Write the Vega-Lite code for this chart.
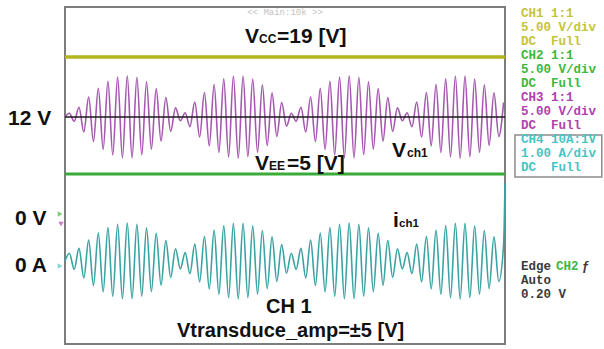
{
 "$schema": "https://vega.github.io/schema/vega-lite/v6.json",
 "width": 440, "height": 337,
 "autosize": {"type": "none"},
 "padding": {"left": 65, "top": 7, "right": 99, "bottom": 5},
 "background": "white",
 "config": {"view": {"stroke": "#7d7d7d", "strokeWidth": 2}},
 "datasets": {
  "dc": [{"t": 0, "ch1": 2.813, "ch2": 0.036}, {"t": 10, "ch1": 2.813, "ch2": 0.036}],
  "ref": [{"level": 1.389}],
  "wave": [
   {"t":0,"p":1.389,"c":-2.03},
   {"t":0.099,"p":1.477,"c":-1.844},{"t":0.209,"p":1.287,"c":-2.228},{"t":0.318,"p":1.619,"c":-1.730},{"t":0.428,"p":1.034,"c":-2.430},
   {"t":0.538,"p":1.863,"c":-1.535},{"t":0.647,"p":0.806,"c":-2.612},{"t":0.757,"p":2.073,"c":-1.367},{"t":0.867,"p":0.618,"c":-2.763},
   {"t":0.976,"p":2.234,"c":-1.238},{"t":1.086,"p":0.485,"c":-2.869},{"t":1.196,"p":2.336,"c":-1.157},{"t":1.305,"p":0.417,"c":-2.924},
   {"t":1.415,"p":2.369,"c":-1.130},{"t":1.524,"p":0.418,"c":-2.923},{"t":1.634,"p":2.332,"c":-1.160},{"t":1.744,"p":0.491,"c":-2.865},
   {"t":1.853,"p":2.227,"c":-1.243},{"t":1.963,"p":0.627,"c":-2.756},{"t":2.073,"p":2.063,"c":-1.375},{"t":2.182,"p":0.817,"c":-2.604},
   {"t":2.292,"p":1.850,"c":-1.545},{"t":2.402,"p":1.046,"c":-2.420},{"t":2.511,"p":1.606,"c":-1.740},{"t":2.621,"p":1.301,"c":-2.216},
   {"t":2.731,"p":1.491,"c":-1.832},{"t":2.840,"p":1.159,"c":-2.330},{"t":2.950,"p":1.744,"c":-1.630},{"t":3.060,"p":0.915,"c":-2.525},
   {"t":3.169,"p":1.972,"c":-1.448},{"t":3.279,"p":0.705,"c":-2.693},{"t":3.389,"p":2.160,"c":-1.297},{"t":3.498,"p":0.544,"c":-2.822},
   {"t":3.608,"p":2.293,"c":-1.191},{"t":3.718,"p":0.442,"c":-2.903},{"t":3.827,"p":2.361,"c":-1.136},{"t":3.937,"p":0.409,"c":-2.930},
   {"t":4.047,"p":2.360,"c":-1.137},{"t":4.156,"p":0.446,"c":-2.900},{"t":4.266,"p":2.287,"c":-1.195},{"t":4.376,"p":0.551,"c":-2.817},
   {"t":4.485,"p":2.151,"c":-1.304},{"t":4.595,"p":0.715,"c":-2.685},{"t":4.705,"p":1.961,"c":-1.456},{"t":4.814,"p":0.928,"c":-2.515},
   {"t":4.924,"p":1.732,"c":-1.640},{"t":5.034,"p":1.172,"c":-2.320},{"t":5.143,"p":1.477,"c":-1.844},{"t":5.253,"p":1.287,"c":-2.228},
   {"t":5.363,"p":1.619,"c":-1.730},{"t":5.472,"p":1.034,"c":-2.430},{"t":5.582,"p":1.863,"c":-1.535},{"t":5.692,"p":0.806,"c":-2.612},
   {"t":5.801,"p":2.073,"c":-1.367},{"t":5.911,"p":0.618,"c":-2.763},{"t":6.021,"p":2.234,"c":-1.238},{"t":6.130,"p":0.485,"c":-2.869},
   {"t":6.240,"p":2.336,"c":-1.157},{"t":6.349,"p":0.417,"c":-2.924},{"t":6.459,"p":2.369,"c":-1.130},{"t":6.569,"p":0.418,"c":-2.923},
   {"t":6.678,"p":2.332,"c":-1.160},{"t":6.788,"p":0.491,"c":-2.865},{"t":6.898,"p":2.227,"c":-1.243},{"t":7.007,"p":0.627,"c":-2.756},
   {"t":7.117,"p":2.063,"c":-1.375},{"t":7.227,"p":0.817,"c":-2.604},{"t":7.336,"p":1.850,"c":-1.545},{"t":7.446,"p":1.046,"c":-2.420},
   {"t":7.556,"p":1.606,"c":-1.740},{"t":7.665,"p":1.301,"c":-2.216},{"t":7.775,"p":1.491,"c":-1.832},{"t":7.885,"p":1.159,"c":-2.330},
   {"t":7.994,"p":1.744,"c":-1.630},{"t":8.104,"p":0.915,"c":-2.525},{"t":8.214,"p":1.972,"c":-1.448},{"t":8.323,"p":0.705,"c":-2.693},
   {"t":8.433,"p":2.160,"c":-1.297},{"t":8.543,"p":0.544,"c":-2.822},{"t":8.652,"p":2.293,"c":-1.191},{"t":8.762,"p":0.442,"c":-2.903},
   {"t":8.872,"p":2.361,"c":-1.136},{"t":8.981,"p":0.409,"c":-2.930},{"t":9.091,"p":2.360,"c":-1.137},{"t":9.201,"p":0.446,"c":-2.900},
   {"t":9.310,"p":2.287,"c":-1.195},{"t":9.420,"p":0.551,"c":-2.817},{"t":9.530,"p":2.151,"c":-1.304},{"t":9.639,"p":0.715,"c":-2.685},
   {"t":9.749,"p":1.961,"c":-1.456},{"t":9.859,"p":0.928,"c":-2.515},{"t":9.968,"p":1.732,"c":-1.640},
   {"t":10,"c":-0.178}
  ],
  "big": [
   {"t":4.091,"v":3.145,"text":"V"},{"t":4.818,"v":3.145,"text":"=19 [V]"},
   {"t":4.318,"v":0.131,"text":"V"},{"t":5.045,"v":0.131,"text":"=5 [V]"},
   {"t":7.432,"v":0.439,"text":"V"},{"t":7.455,"v":-1.223,"text":"i"},
   {"t":-1.295,"v":1.199,"text":"12 V"},{"t":-1.136,"v":-1.175,"text":"0 V"},{"t":-1.136,"v":-2.291,"text":"0 A"}
  ],
  "big20": [
   {"t":4.568,"v":-3.264,"text":"CH 1"},{"t":2.545,"v":-3.834,"text":"Vtransduce_amp=±5 [V]"}
  ],
  "sub": [
   {"t":4.409,"v":3.145,"text":"CC"},{"t":4.636,"v":0.131,"text":"EE"},{"t":7.773,"v":0.439,"text":"ch1"}
  ],
  "subsmall": [{"t":7.591,"v":-1.223,"text":"ch1"}],
  "panel": [
   {"t":10.364,"v":3.763,"text":"CH1 1:1","ch":"c1"},
   {"t":10.364,"v":3.430,"text":"5.00 V/div","ch":"c1"},
   {"t":10.364,"v":3.098,"text":"DC\u00a0\u00a0Full","ch":"c1"},
   {"t":10.364,"v":2.766,"text":"CH2 1:1","ch":"c2"},
   {"t":10.364,"v":2.433,"text":"5.00 V/div","ch":"c2"},
   {"t":10.364,"v":2.101,"text":"DC\u00a0\u00a0Full","ch":"c2"},
   {"t":10.364,"v":1.769,"text":"CH3 1:1","ch":"c3"},
   {"t":10.364,"v":1.436,"text":"5.00 V/div","ch":"c3"},
   {"t":10.364,"v":1.104,"text":"DC\u00a0\u00a0Full","ch":"c3"},
   {"t":10.364,"v":0.772,"text":"CH4 10A:1V","ch":"c4"},
   {"t":10.364,"v":0.439,"text":"1.00 A/div","ch":"c4"},
   {"t":10.364,"v":0.107,"text":"DC\u00a0\u00a0Full","ch":"c4"},
   {"t":10.364,"v":-2.243,"text":"Edge","ch":"trig"},
   {"t":11.159,"v":-2.243,"text":"CH2","ch":"c2"},
   {"t":11.75,"v":-2.243,"text":"ƒ","ch":"trig"},
   {"t":10.364,"v":-2.576,"text":"Auto","ch":"trig"},
   {"t":10.364,"v":-2.907,"text":"0.20 V","ch":"trig"}
  ],
  "box": [{"t1":10.227,"t2":12.2,"v1":0.961,"v2":-0.036}],
  "markers": [
   {"t":-0.114,"v":-0.914,"ch":"c2"},{"t":-0.091,"v":-1.151,"ch":"c3"},{"t":-0.114,"v":-2.148,"ch":"c4"}
  ],
  "top": [{"t":5.0,"v":3.81,"text":"<< Main:10k >>"}]
 },
 "layer": [
  {
   "data": {"name": "dc"},
   "mark": {"type": "line", "color": "#b5b520", "strokeWidth": 3.5},
   "encoding": {
    "x": {"field": "t", "type": "quantitative", "scale": {"domain": [0, 10], "nice": false, "zero": false},
          "axis": {"values": [1,2,3,4,5,6,7,8,9], "grid": true, "gridDash": [1, 3], "gridColor": "#8f8f8f", "gridWidth": 1, "labels": false, "ticks": false, "domain": false, "title": null}},
    "y": {"field": "ch1", "type": "quantitative", "scale": {"domain": [-4, 4], "nice": false, "zero": false},
          "axis": {"values": [-3,-2,-1,0,1,2,3], "grid": true, "gridDash": [1, 3], "gridColor": "#8f8f8f", "gridWidth": 1, "labels": false, "ticks": false, "domain": false, "title": null}}
   }
  },
  {
   "data": {"name": "dc"},
   "mark": {"type": "line", "color": "#3aab3a", "strokeWidth": 3},
   "encoding": {
    "x": {"field": "t", "type": "quantitative", "scale": {"domain": [0, 10]}, "axis": null},
    "y": {"field": "ch2", "type": "quantitative", "scale": {"domain": [-4, 4]}, "axis": null}
   }
  },
  {
   "data": {"name": "wave"},
   "mark": {"type": "line", "color": "#a658b0", "strokeWidth": 1.6, "interpolate": "monotone"},
   "encoding": {
    "x": {"field": "t", "type": "quantitative", "scale": {"domain": [0, 10]}, "axis": null},
    "y": {"field": "p", "type": "quantitative", "scale": {"domain": [-4, 4]}, "axis": null}
   }
  },
  {
   "data": {"name": "wave"},
   "mark": {"type": "line", "color": "#3aa3a4", "strokeWidth": 1.6, "interpolate": "monotone"},
   "encoding": {
    "x": {"field": "t", "type": "quantitative", "scale": {"domain": [0, 10]}, "axis": null},
    "y": {"field": "c", "type": "quantitative", "scale": {"domain": [-4, 4]}, "axis": null}
   }
  },
  {
   "data": {"name": "ref"},
   "mark": {"type": "rule", "color": "#1a1a1a", "strokeWidth": 1.6},
   "encoding": {
    "y": {"field": "level", "type": "quantitative", "scale": {"domain": [-4, 4]}, "axis": null}
   }
  },
  {
   "data": {"name": "big"},
   "mark": {"type": "text", "font": "Liberation Sans", "fontWeight": "bold", "fontSize": 21, "align": "left", "baseline": "alphabetic", "color": "#111111"},
   "encoding": {
    "x": {"field": "t", "type": "quantitative", "scale": {"domain": [0, 10]}, "axis": null},
    "y": {"field": "v", "type": "quantitative", "scale": {"domain": [-4, 4]}, "axis": null},
    "text": {"field": "text"}
   }
  },
  {
   "data": {"name": "big20"},
   "mark": {"type": "text", "font": "Liberation Sans", "fontWeight": "bold", "fontSize": 20, "align": "left", "baseline": "alphabetic", "color": "#111111"},
   "encoding": {
    "x": {"field": "t", "type": "quantitative", "scale": {"domain": [0, 10]}, "axis": null},
    "y": {"field": "v", "type": "quantitative", "scale": {"domain": [-4, 4]}, "axis": null},
    "text": {"field": "text"}
   }
  },
  {
   "data": {"name": "sub"},
   "mark": {"type": "text", "font": "Liberation Sans", "fontWeight": "bold", "fontSize": 12, "align": "left", "baseline": "alphabetic", "color": "#111111"},
   "encoding": {
    "x": {"field": "t", "type": "quantitative", "scale": {"domain": [0, 10]}, "axis": null},
    "y": {"field": "v", "type": "quantitative", "scale": {"domain": [-4, 4]}, "axis": null},
    "text": {"field": "text"}
   }
  },
  {
   "data": {"name": "subsmall"},
   "mark": {"type": "text", "font": "Liberation Sans", "fontWeight": "bold", "fontSize": 11.5, "align": "left", "baseline": "alphabetic", "color": "#111111"},
   "encoding": {
    "x": {"field": "t", "type": "quantitative", "scale": {"domain": [0, 10]}, "axis": null},
    "y": {"field": "v", "type": "quantitative", "scale": {"domain": [-4, 4]}, "axis": null},
    "text": {"field": "text"}
   }
  },
  {
   "data": {"name": "top"},
   "mark": {"type": "text", "font": "Liberation Mono", "fontSize": 9, "align": "center", "baseline": "alphabetic", "color": "#c2c2c2"},
   "encoding": {
    "x": {"field": "t", "type": "quantitative", "scale": {"domain": [0, 10]}, "axis": null},
    "y": {"field": "v", "type": "quantitative", "scale": {"domain": [-4, 4]}, "axis": null},
    "text": {"field": "text"}
   }
  },
  {
   "data": {"name": "box"},
   "mark": {"type": "rect", "fill": "transparent", "stroke": "#8c8c8c", "strokeWidth": 1.5},
   "encoding": {
    "x": {"field": "t1", "type": "quantitative", "scale": {"domain": [0, 10]}, "axis": null},
    "x2": {"field": "t2"},
    "y": {"field": "v1", "type": "quantitative", "scale": {"domain": [-4, 4]}, "axis": null},
    "y2": {"field": "v2"}
   }
  },
  {
   "data": {"name": "panel"},
   "mark": {"type": "text", "font": "Liberation Mono", "fontWeight": "bold", "fontSize": 12.5, "align": "left", "baseline": "alphabetic"},
   "encoding": {
    "x": {"field": "t", "type": "quantitative", "scale": {"domain": [0, 10]}, "axis": null},
    "y": {"field": "v", "type": "quantitative", "scale": {"domain": [-4, 4]}, "axis": null},
    "text": {"field": "text"},
    "color": {"field": "ch", "type": "nominal", "scale": {"domain": ["c1", "c2", "c3", "c4", "trig"], "range": ["#c4c43a", "#3cb83c", "#b040b0", "#45c4c4", "#3a3a3a"]}, "legend": null}
   }
  },
  {
   "data": {"name": "markers"},
   "mark": {"type": "point", "filled": true, "size": 28},
   "encoding": {
    "x": {"field": "t", "type": "quantitative", "scale": {"domain": [0, 10]}, "axis": null},
    "y": {"field": "v", "type": "quantitative", "scale": {"domain": [-4, 4]}, "axis": null},
    "shape": {"field": "ch", "type": "nominal", "scale": {"domain": ["c2", "c3", "c4"], "range": ["triangle-right", "triangle-down", "triangle-right"]}, "legend": null},
    "color": {"field": "ch", "type": "nominal", "scale": {"domain": ["c1", "c2", "c3", "c4", "trig"], "range": ["#c4c43a", "#3cb83c", "#b040b0", "#45c4c4", "#3a3a3a"]}, "legend": null}
   }
  }
 ]
}
